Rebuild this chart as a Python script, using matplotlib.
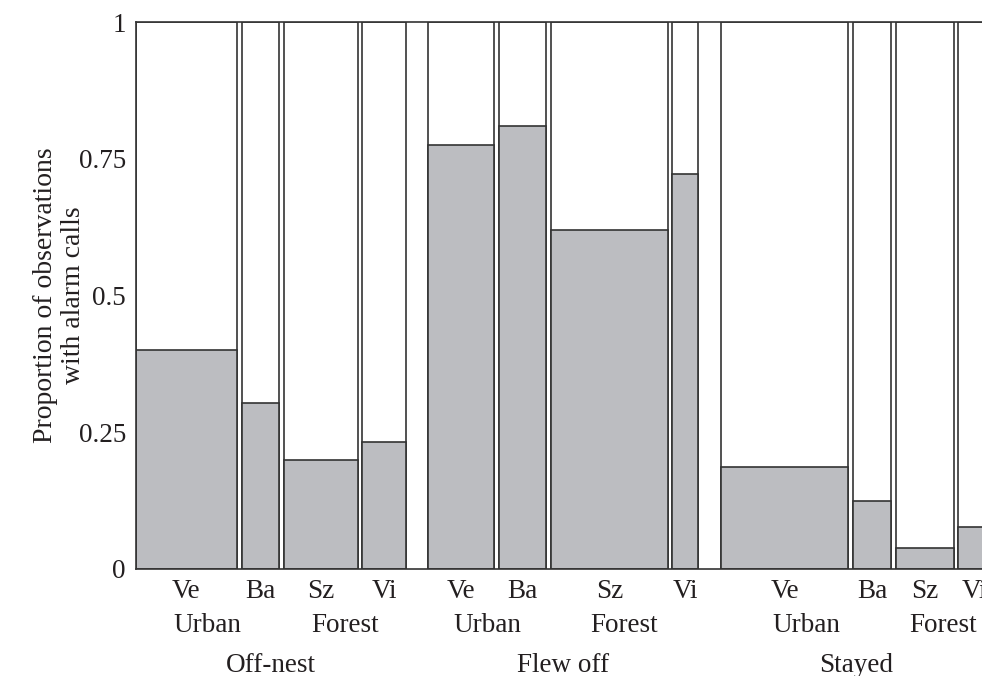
import numpy as np
import matplotlib.pyplot as plt

plt.rcParams['font.family'] = ['Liberation Serif', 'DejaVu Serif']

groups = ['Off-nest', 'Flew off', 'Stayed']
sites = ['Ve', 'Ba', 'Sz', 'Vi']
habitats = ['Urban', 'Forest']
# bar width = share of observations of each site within the behaviour
off_w = [0.395, 0.146, 0.289, 0.170]
flew_w = [0.258, 0.184, 0.457, 0.101]
stay_w = [0.498, 0.148, 0.227, 0.127]
# proportion of observations with alarm calls
off_p = [0.40, 0.304, 0.199, 0.232]
flew_p = [0.775, 0.809, 0.620, 0.722]
stay_p = [0.187, 0.125, 0.038, 0.076]

widths = [off_w, flew_w, stay_w]
props = [off_p, flew_p, stay_p]

gap_in = 0.0183
gap_out = 0.088
ec = '#333333'
fill = '#bcbdc1'
txt = '#231f20'
fs = 19.5

fig = plt.figure(figsize=(9.82, 6.76), dpi=100)
W, H = 982, 676
ax = fig.add_axes([135.7 / W, 107 / H, (W - 135.7) / W, 547 / H])

x = 0.0
for g, (ws, ps) in enumerate(zip(widths, props)):
    start = x
    lefts = []
    for w, p in zip(ws, ps):
        ax.bar(x, 1, width=w, align='edge', color='white', edgecolor=ec, linewidth=1.2)
        ax.bar(x, p, width=w, align='edge', color=fill, edgecolor=ec, linewidth=1.2)
        lefts.append(x)
        x += w + gap_in
    end = x - gap_in
    tr = ax.get_xaxis_transform()
    for s, l, w in zip(sites, lefts, ws):
        ax.text(l + w / 2, -0.0536, s, transform=tr, ha='center', va='baseline',
                fontsize=fs, color=txt, clip_on=False)
    # habitat labels: Ve+Ba urban, Sz+Vi forest
    u_c = (lefts[0] + lefts[1] + ws[1]) / 2
    f_c = (lefts[2] + lefts[3] + ws[3]) / 2
    ax.text(u_c, -0.1146, habitats[0], transform=tr, ha='center', va='baseline',
            fontsize=fs, color=txt, clip_on=False)
    ax.text(f_c, -0.1146, habitats[1], transform=tr, ha='center', va='baseline',
            fontsize=fs, color=txt, clip_on=False)
    ax.text((start + end) / 2, -0.1877, groups[g], transform=tr, ha='center',
            va='baseline', fontsize=fs, color=txt, clip_on=False)
    x = end + gap_out

ax.set_xlim(0, (W - 135.7) / 256)
ax.set_ylim(0, 1)
ax.set_yticks([0, 0.25, 0.5, 0.75, 1])
ax.set_yticklabels(['0', '0.25', '0.5', '0.75', '1'])
ax.set_xticks([])
ax.tick_params(axis='y', length=0, pad=7, labelsize=fs, labelcolor=txt)
for side in ['left', 'top', 'bottom']:
    ax.spines[side].set_color(ec)
    ax.spines[side].set_linewidth(1.2)
ax.spines['right'].set_visible(False)

# two-line y label, written as two texts
fig.text(46 / W, 1 - 295 / H, 'Proportion of observations', rotation=90,
         ha='center', va='center', fontsize=fs + 0.5, color=txt)
fig.text(74 / W, 1 - 295 / H, 'with alarm calls', rotation=90,
         ha='center', va='center', fontsize=fs + 0.5, color=txt)

fig.savefig('out.png', dpi=100)
